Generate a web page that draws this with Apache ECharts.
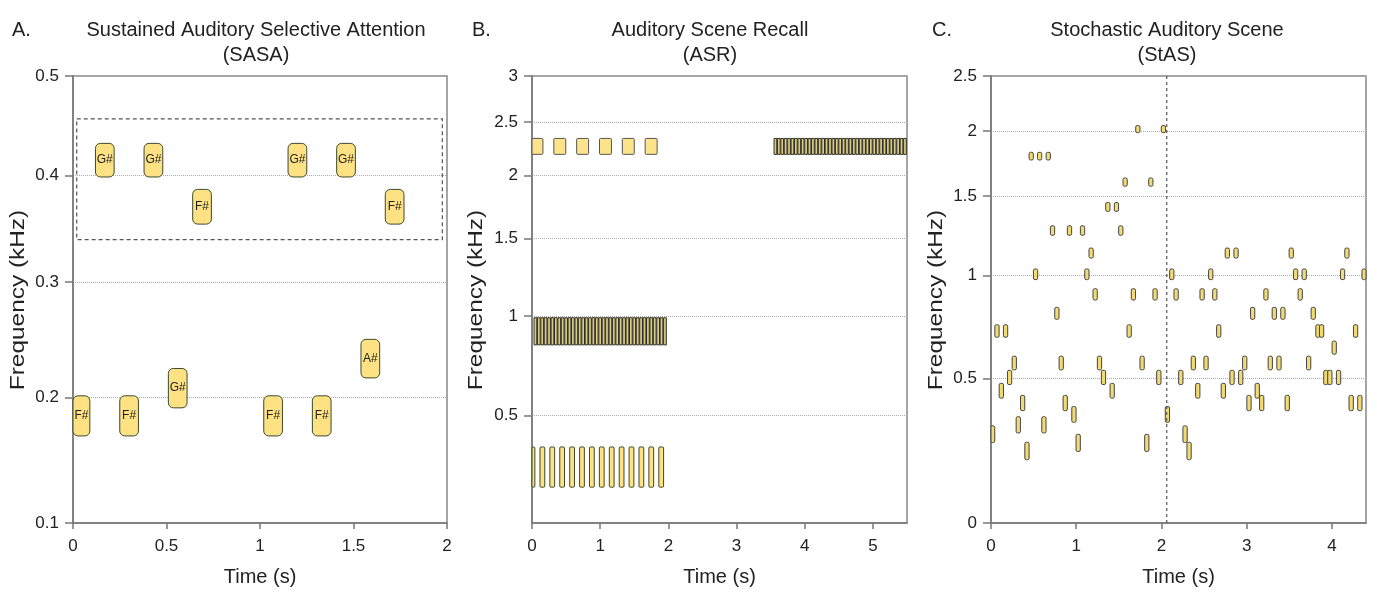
<!DOCTYPE html>
<html>
<head>
<meta charset="utf-8">
<title>Auditory scene paradigms</title>
<script src="https://cdn.jsdelivr.net/npm/echarts@6/dist/echarts.min.js"></script>
<style>
  html, body { margin: 0; padding: 0; background: #fff; }
  #chart { width: 1375px; height: 592px; }
</style>
</head>
<body>
<div id="chart"></div>
<script>
// ---- data (times in s, frequencies in kHz) ----

// A. SASA: tone onsets, pitches and note names
const sasaOnsets = [-0.01, 0.12, 0.25, 0.38, 0.51, 0.64, 1.02, 1.15, 1.28, 1.41, 1.54, 1.67];
const sasaFreqs = [0.185, 0.415, 0.185, 0.415, 0.208, 0.370, 0.185, 0.415, 0.185, 0.415, 0.233, 0.370];
const sasaNotes = ['F#', 'G#', 'F#', 'G#', 'G#', 'F#', 'F#', 'G#', 'F#', 'G#', 'A#', 'F#'];
const sasaWindowTime = [0.02, 1.975];
const sasaWindowFreq = [0.339, 0.456];
const sasaTicks = [0.1, 0.2, 0.3, 0.4, 0.5];

// B. ASR: four streams
const asrSlowOnsets = [-0.015, 0.32, 0.655, 0.99, 1.325, 1.66];
const asrSlowFreq = 2.265;
const asrFastLowOnsets = [0.03, 0.08, 0.13, 0.18, 0.23, 0.28, 0.33, 0.38, 0.43, 0.48, 0.53, 0.58, 0.63,
  0.68, 0.73, 0.78, 0.83, 0.88, 0.93, 0.98, 1.03, 1.08, 1.13, 1.18, 1.23, 1.28, 1.33, 1.38, 1.43,
  1.48, 1.53, 1.58, 1.63, 1.68, 1.73, 1.78, 1.83, 1.88, 1.93];
const asrFastLowFreq = 0.915;
const asrFastHighOnsets = [3.55, 3.60, 3.65, 3.70, 3.75, 3.80, 3.85, 3.90, 3.95, 4.00, 4.05, 4.10, 4.15,
  4.20, 4.25, 4.30, 4.35, 4.40, 4.45, 4.50, 4.55, 4.60, 4.65, 4.70, 4.75, 4.80, 4.85, 4.90, 4.95,
  5.00, 5.05, 5.10, 5.15, 5.20, 5.25, 5.30, 5.35, 5.40, 5.45];
const asrFastHighFreq = 2.265;
const asrMidOnsets = [-0.028, 0.117, 0.262, 0.407, 0.553, 0.698, 0.843, 0.988, 1.134, 1.279, 1.424, 1.569, 1.714, 1.86];
const asrMidFreq = 0.295;
const asrTicks = [0.5, 1, 1.5, 2, 2.5, 3];

// C. StAS: tone centre times and pitches
const stasTimes = [0.019, 0.07, 0.121, 0.171, 0.218, 0.273, 0.32, 0.371, 0.422, 0.472, 0.523, 0.57,
  0.621, 0.672, 0.722, 0.773, 0.824, 0.871, 0.921, 0.973, 1.023, 1.074, 1.125, 1.175, 1.222, 1.273,
  1.32, 1.371, 1.422, 1.472, 1.523, 1.574, 1.621, 1.671, 1.723, 1.773, 1.828, 1.875, 1.925, 1.969,
  2.023, 2.07, 2.121, 2.172, 2.227, 2.277, 2.324, 2.374, 2.426, 2.477, 2.523, 2.578, 2.626, 2.672,
  2.726, 2.773, 2.828, 2.875, 2.93, 2.977, 3.027, 3.07, 3.124, 3.176, 3.226, 3.277, 3.324, 3.379,
  3.425, 3.476, 3.523, 3.574, 3.628, 3.675, 3.727, 3.781, 3.836, 3.879, 3.929, 3.976, 4.027, 4.078,
  4.125, 4.176, 4.226, 4.278, 4.328, 4.378];
const stasFreqs = [0.283, 0.713, 0.449, 0.713, 0.504, 0.566, 0.317, 0.4, 0.224, 1.796, 1.008, 1.796,
  0.317, 1.796, 1.27, 0.8, 0.566, 0.4, 1.27, 0.356, 0.252, 1.27, 1.008, 1.131, 0.898, 0.566,
  0.504, 1.425, 0.449, 1.425, 1.27, 1.6, 0.713, 0.898, 2.016, 0.566, 0.252, 1.6, 0.898, 0.504,
  2.016, 0.356, 1.008, 0.898, 0.504, 0.283, 0.224, 0.566, 0.449, 0.898, 0.566, 1.008, 0.898, 0.713,
  0.449, 1.131, 0.504, 1.131, 0.504, 0.566, 0.4, 0.8, 0.449, 0.4, 0.898, 0.566, 0.8, 0.566,
  0.8, 0.4, 1.131, 1.008, 0.898, 1.008, 0.566, 0.8, 0.713, 0.713, 0.504, 0.504, 0.635, 0.504,
  1.008, 1.131, 0.4, 0.713, 0.4, 1.008];
const stasSplitTime = 2.062;
const stasTicks = [0, 0.5, 1, 1.5, 2, 2.5];

// ---- frequency warp used by the figure: log10(1 + f[kHz]) ----
const warp = f => Math.log10(1 + f);
const unwarp = v => Math.pow(10, v) - 1;
const fmtFreq = v => String(Math.round(unwarp(v) * 10) / 10);

// tone box sizes (duration s, half bandwidth kHz)
const SASA_DUR = 0.1, SASA_BW = 0.0165;
const ASR_SLOW_DUR = 0.175, ASR_FAST_DUR = 0.04, ASR_MID_DUR = 0.07, ASR_BW = 0.075;
const STAS_DUR = 0.05, STAS_BW = 0.03;

const toBoxes = (onsets, freqs, dur, bw) =>
  onsets.map((t, i) => {
    const f = Array.isArray(freqs) ? freqs[i] : freqs;
    return [t, t + dur, warp(f - bw), warp(f + bw)];
  });

const FONT = '"Liberation Sans", Arial, Helvetica, sans-serif';
const INK = '#222';

function boxRenderer(style, radius, labels) {
  return function (params, api) {
    const p0 = api.coord([api.value(0), api.value(3)]);
    const p1 = api.coord([api.value(1), api.value(2)]);
    const cs = params.coordSys;
    const rect = echarts.graphic.clipRectByRect(
      { x: p0[0], y: p0[1], width: p1[0] - p0[0], height: p1[1] - p0[1] },
      { x: cs.x, y: cs.y, width: cs.width, height: cs.height }
    );
    if (!rect) return;
    const el = {
      type: 'rect',
      shape: { x: rect.x, y: rect.y, width: rect.width, height: rect.height, r: radius },
      style: Object.assign({}, style)
    };
    if (labels) {
      el.textContent = {
        type: 'text',
        style: { text: labels[params.dataIndex], fill: INK, font: '12px ' + FONT }
      };
      el.textConfig = { position: 'inside' };
    }
    return el;
  };
}

function makeX(gridIndex, max, step, ticks) {
  return {
    gridIndex, type: 'value', min: 0, max, interval: step,
    name: 'Time (s)', nameLocation: 'middle', nameGap: 44,
    nameTextStyle: { fontSize: 20, color: INK, fontFamily: FONT },
    axisLine: { show: true, lineStyle: { color: '#777', width: 1.5 } },
    axisTick: { show: true, inside: false, length: 6, customValues: ticks, lineStyle: { color: '#777', width: 1.5 } },
    axisLabel: { customValues: ticks, fontSize: 17, color: INK, fontFamily: FONT, margin: 15 },
    splitLine: { show: false }
  };
}

function makeY(gridIndex, lo, hi, ticks) {
  const vals = ticks.map(warp);
  return {
    gridIndex, type: 'value', min: warp(lo), max: warp(hi),
    axisLine: { show: true, lineStyle: { color: '#777', width: 1.5 } },
    axisTick: { show: true, inside: false, length: 8, customValues: vals, lineStyle: { color: '#777', width: 1.5 } },
    axisLabel: { customValues: vals, formatter: fmtFreq, fontSize: 17, color: INK, fontFamily: FONT, margin: 14 },
    splitLine: { show: true, lineStyle: { color: '#aaa', type: 'dotted', width: 1 } }
  };
}

const gridBase = { top: 76, height: 451, show: true, borderColor: '#888', borderWidth: 1.5, backgroundColor: 'transparent' };

const toneStyle = { fill: '#fde183', stroke: '#3b4a2c', lineWidth: 1 };
const stasStyle = { fill: '#f2da74', stroke: '#444', lineWidth: 1 };
const denseStyle = { fill: '#d9cb83', stroke: '#2f2f2a', lineWidth: 1 };

function titleText(x, y, text) {
  return {
    type: 'text', x, y,
    style: { text, font: '20px ' + FONT, fill: INK, textAlign: 'center', align: 'center', textVerticalAlign: 'middle', verticalAlign: 'middle' }
  };
}
function panelLetter(x, text) {
  return {
    type: 'text', x, y: 30,
    style: { text, font: '20px ' + FONT, fill: INK, textAlign: 'left', align: 'left', textVerticalAlign: 'middle', verticalAlign: 'middle' }
  };
}
// the y titles in the figure are drawn stretched along their length
function freqTitle(x) {
  return {
    type: 'text', x, y: 300, rotation: Math.PI / 2, scaleX: 1.22,
    style: { text: 'Frequency (kHz)', font: '20px ' + FONT, fill: INK, textAlign: 'center', align: 'center', textVerticalAlign: 'middle', verticalAlign: 'middle' }
  };
}

const chart = echarts.init(document.getElementById('chart'), null, { renderer: 'canvas' });

chart.setOption({
  animation: false,
  backgroundColor: '#fff',
  grid: [
    Object.assign({ left: 73, width: 374 }, gridBase),
    Object.assign({ left: 532, width: 375 }, gridBase),
    Object.assign({ left: 991, width: 375 }, gridBase)
  ],
  xAxis: [
    makeX(0, 2, 0.5, [0, 0.5, 1, 1.5, 2]),
    makeX(1, 5.5, 1, [0, 1, 2, 3, 4, 5]),
    makeX(2, 4.4, 1, [0, 1, 2, 3, 4])
  ],
  yAxis: [
    makeY(0, 0.1, 0.5, sasaTicks),
    makeY(1, 0.1, 3, asrTicks),
    makeY(2, 0, 2.5, stasTicks)
  ],
  graphic: [
    panelLetter(12, 'A.'),
    titleText(256, 30, 'Sustained Auditory Selective Attention'),
    titleText(256, 55, '(SASA)'),
    freqTitle(18),
    panelLetter(472, 'B.'),
    titleText(710, 30, 'Auditory Scene Recall'),
    titleText(710, 55, '(ASR)'),
    freqTitle(476),
    panelLetter(932, 'C.'),
    titleText(1167, 30, 'Stochastic Auditory Scene'),
    titleText(1167, 55, '(StAS)'),
    freqTitle(936)
  ],
  series: [
    {
      name: 'attended window', type: 'custom', xAxisIndex: 0, yAxisIndex: 0, silent: true,
      data: [[sasaWindowTime[0], sasaWindowTime[1], warp(sasaWindowFreq[0]), warp(sasaWindowFreq[1])]],
      renderItem: boxRenderer({ fill: 'none', stroke: '#555', lineWidth: 1.2, lineDash: [4, 3] }, 0)
    },
    {
      name: 'SASA tones', type: 'custom', xAxisIndex: 0, yAxisIndex: 0,
      data: toBoxes(sasaOnsets, sasaFreqs, SASA_DUR, SASA_BW),
      renderItem: boxRenderer(toneStyle, 5, sasaNotes)
    },
    {
      name: 'ASR slow', type: 'custom', xAxisIndex: 1, yAxisIndex: 1,
      data: toBoxes(asrSlowOnsets, asrSlowFreq, ASR_SLOW_DUR, ASR_BW),
      renderItem: boxRenderer({ fill: '#fde38c', stroke: '#555', lineWidth: 1 }, 1)
    },
    {
      name: 'ASR fast low', type: 'custom', xAxisIndex: 1, yAxisIndex: 1,
      data: toBoxes(asrFastLowOnsets, asrFastLowFreq, ASR_FAST_DUR, ASR_BW),
      renderItem: boxRenderer(denseStyle, 0)
    },
    {
      name: 'ASR fast high', type: 'custom', xAxisIndex: 1, yAxisIndex: 1,
      data: toBoxes(asrFastHighOnsets, asrFastHighFreq, ASR_FAST_DUR, ASR_BW),
      renderItem: boxRenderer(denseStyle, 0)
    },
    {
      name: 'ASR mid', type: 'custom', xAxisIndex: 1, yAxisIndex: 1,
      data: toBoxes(asrMidOnsets, asrMidFreq, ASR_MID_DUR, ASR_BW),
      renderItem: boxRenderer(toneStyle, 1)
    },
    {
      name: 'StAS split', type: 'line', xAxisIndex: 2, yAxisIndex: 2, silent: true,
      showSymbol: false, symbol: 'none',
      data: [[stasSplitTime, warp(0)], [stasSplitTime, warp(2.5)]],
      lineStyle: { color: '#555', width: 1.2, type: [3, 3] }
    },
    {
      name: 'StAS tones', type: 'custom', xAxisIndex: 2, yAxisIndex: 2,
      data: toBoxes(stasTimes.map(t => t - STAS_DUR / 2), stasFreqs, STAS_DUR, STAS_BW),
      renderItem: boxRenderer(stasStyle, 1.5)
    }
  ]
});

window.addEventListener('resize', () => chart.resize());
</script>
</body>
</html>
